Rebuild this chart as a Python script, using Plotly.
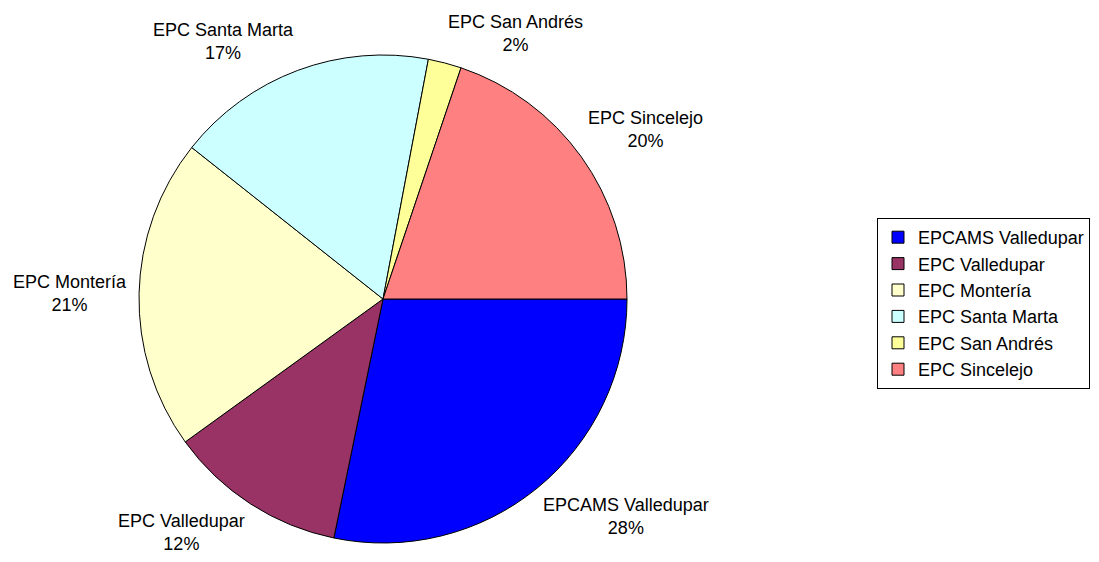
import numpy as np
import plotly.graph_objects as go

labels = ["EPCAMS Valledupar", "EPC Valledupar", "EPC Montería",
          "EPC Santa Marta", "EPC San Andrés", "EPC Sincelejo"]
values = [28.2, 11.8, 20.6, 17.3, 2.2, 19.8]
colors = ["#0000FF", "#993366", "#FFFFCC", "#CCFFFF", "#FFFF99", "#FF8080"]

# the page body has an 8px margin; the figure starts at (8, 8) in the window
OFF = 8
W, H = 1099 - OFF, 562 - 2 * OFF
font = dict(family="Liberation Sans, Arial, sans-serif", size=18, color="black")


def px2x(px):
    return (px - OFF) / W


def py2y(py):
    return 1 - (py - OFF) / H


# pie placement in window pixels
cx, cy, r = 383, 299, 244
dom_x = [px2x(cx - r), px2x(cx + r)]
dom_y = [max(0, py2y(cy + r)), py2y(cy - r)]

fig = go.Figure(go.Pie(
    labels=labels, values=values, sort=False, direction="clockwise",
    rotation=90, marker=dict(colors=colors, line=dict(color="black", width=1)),
    textinfo="none", hoverinfo="label+percent",
    domain=dict(x=dom_x, y=dom_y)))

# Excel-like data labels, placed off the slice middles
vals = np.array(values)
cum = np.cumsum(vals) - vals / 2
ang = np.radians(cum / vals.sum() * 360)
for lab, v, a in zip(labels, vals, ang):
    c, s = np.cos(a), np.sin(a)
    xa = "left" if c > 0.2 else ("right" if c < -0.2 else "center")
    ya = "top" if s > 0.3 else ("bottom" if s < -0.3 else "middle")
    pad = 6 if ya != "middle" else 10
    px_ = cx + (r + pad) * c
    py_ = cy + (r + pad) * s
    pct = round(v / vals.sum() * 100)
    fig.add_annotation(x=px2x(px_), y=py2y(py_), xref="paper", yref="paper",
                       text=f"{lab}<br>{pct}%", showarrow=False,
                       xanchor=xa, yanchor=ya, align="center", font=font)

fig.update_layout(
    width=W, height=H, margin=dict(l=0, r=0, t=0, b=0),
    paper_bgcolor="white", plot_bgcolor="white", font=font,
    legend=dict(x=px2x(1090), y=py2y(218), xanchor="right", yanchor="top",
                bordercolor="black", borderwidth=1, font=font,
                bgcolor="white", itemwidth=30),
)
fig.write_html("out.html")
